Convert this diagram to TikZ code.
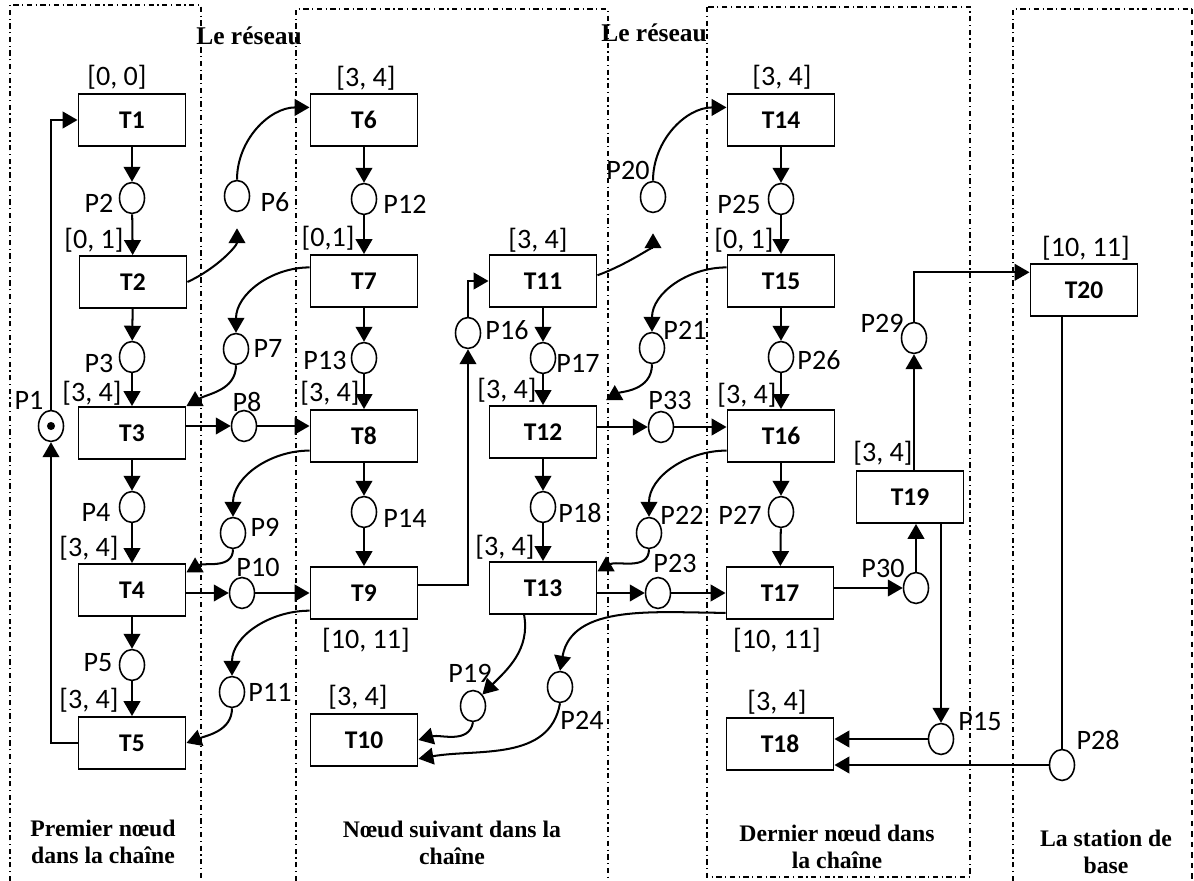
\documentclass[tikz,border=0pt]{standalone}
\usepackage{fontspec}
\setmainfont{Carlito}
\newfontfamily\timesfont{Liberation Serif}
\usetikzlibrary{arrows.meta,shapes.geometric}
\tikzset{
  trans/.style={draw, line width=1.1pt, minimum width=2.14cm, minimum height=1.04cm, inner sep=0pt, font=\fontsize{14.5}{15}\selectfont\bfseries},
  place/.style={draw, ellipse, line width=0.9pt, minimum width=0.5cm, minimum height=0.62cm, inner sep=0pt},
  tag/.style={inner sep=0pt, font=\fontsize{16}{16}\selectfont},
  heading/.style={inner sep=0pt, align=center, font=\timesfont\bfseries\fontsize{13.5}{15.5}\selectfont},
  netname/.style={inner sep=0pt, font=\timesfont\bfseries\fontsize{14.5}{15}\selectfont},
  lane/.style={line width=0.6pt, dash pattern=on 3pt off 2pt on 0.7pt off 2pt},
  flow/.style={line width=1.15pt, -{Triangle[length=8.5pt,width=9.5pt]}},
}
\begin{document}
\begin{tikzpicture}[x=0.02cm, y=0.02cm]
    \useasboundingbox (0,0) rectangle (1194,-881);
    \draw[lane] (10,-881) -- (10,-5) -- (201,-5) -- (201,-881);
    \draw[lane] (296,-881) -- (296,-9) -- (608,-9) -- (608,-881);
    \draw[lane] (707,-7) rectangle (970,-877);
    \draw[lane] (1013,-881) -- (1013,-9) -- (1192,-9);
    \draw[dashed, line width=1pt] (1192,-9) -- (1192,-881);
    \node[netname] (net1) at (249,-36) {Le réseau};
    \node[netname] (net2) at (654,-33) {Le réseau};
    \node[heading] (lane1) at (103,-842) {Premier nœud\\dans la chaîne};
    \node[heading] (lane2) at (452,-843) {Nœud suivant dans la\\chaîne};
    \node[heading] (lane3) at (837,-847) {Dernier nœud dans\\la chaîne};
    \node[heading] (lane4) at (1106,-852) {La station de\\base};

    \node[trans] (T1) at (132,-120) {T1};
    \node[trans] (T2) at (133,-282) {T2};
    \node[trans] (T3) at (132,-433) {T3};
    \node[trans] (T4) at (132,-590) {T4};
    \node[trans] (T5) at (132,-743) {T5};
    \node[trans] (T6) at (364,-120) {T6};
    \node[trans] (T7) at (364,-281) {T7};
    \node[trans] (T8) at (364,-436) {T8};
    \node[trans] (T9) at (364,-593) {T9};
    \node[trans] (T10) at (364,-740) {T10};
    \node[trans] (T11) at (543,-281) {T11};
    \node[trans] (T12) at (543,-432) {T12};
    \node[trans] (T13) at (543,-588) {T13};
    \node[trans] (T14) at (781,-120) {T14};
    \node[trans] (T15) at (781,-281) {T15};
    \node[trans] (T16) at (781,-436) {T16};
    \node[trans] (T17) at (780,-593) {T17};
    \node[trans] (T18) at (780,-744) {T18};
    \node[trans] (T19) at (910,-497) {T19};
    \node[trans] (T20) at (1084,-290) {T20};

    \node[place] (P1) at (51,-426) {};
    \fill (P1.center) circle (2.3pt);
    \node[place] (P2) at (132,-198) {};
    \node[place] (P3) at (132,-357) {};
    \node[place] (P4) at (132,-507) {};
    \node[place] (P5) at (132,-665) {};
    \node[place] (P6) at (237,-196) {};
    \node[place] (P7) at (236,-349) {};
    \node[place] (P8) at (244,-426) {};
    \node[place] (P9) at (233,-533) {};
    \node[place] (P10) at (242,-593) {};
    \node[place] (P11) at (232,-692) {};
    \node[place] (P12) at (364,-199) {};
    \node[place] (P13) at (364,-358) {};
    \node[place] (P14) at (364,-512) {};
    \node[place] (P15) at (941,-739) {};
    \node[place] (P16) at (468,-333) {};
    \node[place] (P17) at (543,-358) {};
    \node[place] (P18) at (543,-507) {};
    \node[place] (P19) at (473,-706) {};
    \node[place] (P20) at (653,-197) {};
    \node[place] (P21) at (652,-348) {};
    \node[place] (P22) at (649,-533) {};
    \node[place] (P23) at (658,-593) {};
    \node[place] (P24) at (560,-687) {};
    \node[place] (P25) at (781,-199) {};
    \node[place] (P26) at (781,-357) {};
    \node[place] (P27) at (781,-512) {};
    \node[place] (P28) at (1062,-765) {};
    \node[place] (P29) at (914,-338) {};
    \node[place] (P30) at (916,-588) {};
    \node[place] (P33) at (661,-427) {};

    \node[tag] (P1l) at (29,-400) {P1};
    \node[tag] (P2l) at (99,-203) {P2};
    \node[tag] (P3l) at (99,-363) {P3};
    \node[tag] (P4l) at (96,-512) {P4};
    \node[tag] (P5l) at (98,-663) {P5};
    \node[tag] (P6l) at (275,-202) {P6};
    \node[tag] (P7l) at (268,-348) {P7};
    \node[tag] (P8l) at (247,-402) {P8};
    \node[tag] (P9l) at (265,-527) {P9};
    \node[tag] (P10l) at (258,-567) {P10};
    \node[tag] (P11l) at (270,-692) {P11};
    \node[tag] (P12l) at (405,-204) {P12};
    \node[tag] (P13l) at (325,-360) {P13};
    \node[tag] (P14l) at (405,-518) {P14};
    \node[tag] (P15l) at (980,-722) {P15};
    \node[tag] (P16l) at (507,-330) {P16};
    \node[tag] (P17l) at (578,-363) {P17};
    \node[tag] (P18l) at (580,-513) {P18};
    \node[tag] (P19l) at (470,-673) {P19};
    \node[tag] (P20l) at (628,-170) {P20};
    \node[tag] (P21l) at (685,-330) {P21};
    \node[tag] (P22l) at (682,-515) {P22};
    \node[tag] (P23l) at (675,-563) {P23};
    \node[tag] (P24l) at (582,-720) {P24};
    \node[tag] (P25l) at (739,-204) {P25};
    \node[tag] (P26l) at (819,-360) {P26};
    \node[tag] (P27l) at (740,-515) {P27};
    \node[tag] (P28l) at (1098,-740) {P28};
    \node[tag] (P29l) at (882,-323) {P29};
    \node[tag] (P30l) at (883,-568) {P30};
    \node[tag] (P33l) at (670,-400) {P33};

    \node[tag] (I1) at (117,-77) {[0, 0]};
    \node[tag] (I2) at (94,-240) {[0, 1]};
    \node[tag] (I3) at (92,-393) {[3, 4]};
    \node[tag] (I4) at (89,-548) {[3, 4]};
    \node[tag] (I5) at (89,-700) {[3, 4]};
    \node[tag] (I6) at (366,-78) {[3, 4]};
    \node[tag] (I7) at (328,-238) {[0,1]};
    \node[tag] (I8) at (330,-393) {[3, 4]};
    \node[tag] (I9) at (366,-640) {[10, 11]};
    \node[tag] (I10) at (358,-697) {[3, 4]};
    \node[tag] (I11) at (538,-240) {[3, 4]};
    \node[tag] (I12) at (507,-390) {[3, 4]};
    \node[tag] (I13) at (505,-547) {[3, 4]};
    \node[tag] (I14) at (782,-77) {[3, 4]};
    \node[tag] (I15) at (744,-240) {[0, 1]};
    \node[tag] (I16) at (747,-395) {[3, 4]};
    \node[tag] (I17) at (777,-640) {[10, 11]};
    \node[tag] (I18) at (777,-702) {[3, 4]};
    \node[tag] (I19) at (883,-453) {[3, 4]};
    \node[tag] (I20) at (1086,-248) {[10, 11]};

    \draw[flow] (P1) |- (T1.west);
    \draw[flow] (T1) -- (P2);
    \draw[flow] (P2) -- (T2);
    \draw[flow] (T2) -- (P3);
    \draw[flow] (P3) -- (T3);
    \draw[flow] (T3) -- (P4);
    \draw[flow] (P4) -- (T4);
    \draw[flow] (T4) -- (P5);
    \draw[flow] (P5) -- (T5);
    \draw[flow] (T5.west) -| (P1);
    \draw[flow, shorten >=0.32cm] (T2.east) to[out=25,in=-90] (P6.south);
    \draw[flow] (P6.north) to[out=90,in=180] (T6.167);
    \draw[flow] (T7.166) to[out=180,in=90] (P7.north);
    \draw[flow] (P7.south) to[out=-90,in=30] (T3.north east);
    \draw[flow] (T3.east |- P8) -- (P8);
    \draw[flow] (P8) -- (P8 -| T8.west);
    \draw[flow] (T8.195) to[out=180,in=90] (P9.north);
    \draw[flow] (P9.south) to[out=-90,in=30] (T4.18);
    \draw[flow] (T4.east |- P10) -- (P10);
    \draw[flow] (P10) -- (P10 -| T9.west);
    \draw[flow] (T9.198) to[out=180,in=90] (P11.north);
    \draw[flow] (P11.south) to[out=-90,in=20] (T5.east);

    \draw[flow] (T6) -- (P12);
    \draw[flow] (P12) -- (T7);
    \draw[flow] (T7) -- (P13);
    \draw[flow] (P13) -- (T8);
    \draw[flow] (T8) -- (P14);
    \draw[flow] (P14) -- (T9);
    \draw[flow] (T9.8) -| (P16);
    \draw[flow] (P16) |- (T11.west);
    \draw[flow] (T11) -- (P17);
    \draw[flow] (P17) -- (T12);
    \draw[flow] (T12) -- (P18);
    \draw[flow] (P18) -- (T13);
    \draw[flow, shorten >=0.4cm] (T11.6) to[out=20,in=-90] (P20.south);
    \draw[flow] (P20.north) to[out=90,in=180] (T14.167);
    \draw[flow] (T15.166) to[out=180,in=90] (P21.north);
    \draw[flow, shorten >=0.2cm] (P21.south) to[out=-90,in=30] (T12.north east);
    \draw[flow] (T12.east |- P33) -- (P33);
    \draw[flow] (P33) -- (P33 -| T16.west);
    \draw[flow] (T16.195) to[out=180,in=90] (P22.north);
    \draw[flow] (P22.south) to[out=-90,in=30] (T13.17);
    \draw[flow] (T13.east |- P23) -- (P23);
    \draw[flow] (P23) -- (P23 -| T17.west);
    \draw[flow] (T13.-125) to[out=-80,in=45] (P19.north east);
    \draw[flow] (P19.south) to[out=-100,in=15] (T10.east);
    \draw[flow] (T17.200) to[out=180,in=80] (P24.north);
    \draw[flow] (P24.south) to[out=-100,in=10] (T10.-19);

    \draw[flow] (T14) -- (P25);
    \draw[flow] (P25) -- (T15);
    \draw[flow] (T15) -- (P26);
    \draw[flow] (P26) -- (T16);
    \draw[flow] (T16) -- (P27);
    \draw[flow] (P27) -- (T17);
    \draw[flow] (T17.east |- P30) -- (P30);
    \draw[flow] (P30) -- (P30 |- T19.south);
    \draw[flow] (T19.south -| P15) -- (P15);
    \draw[flow] (P15) -- (P15 -| T18.east);
    \draw[flow] (T19.north -| P29) -- (P29);
    \draw[flow] (P29) |- (T20.162);
    \draw[line width=0.8pt] (T20.south -| P28) -- (P28);
    \draw[flow] (P28) -- (P28 -| T18.east);
\end{tikzpicture}
\end{document}
